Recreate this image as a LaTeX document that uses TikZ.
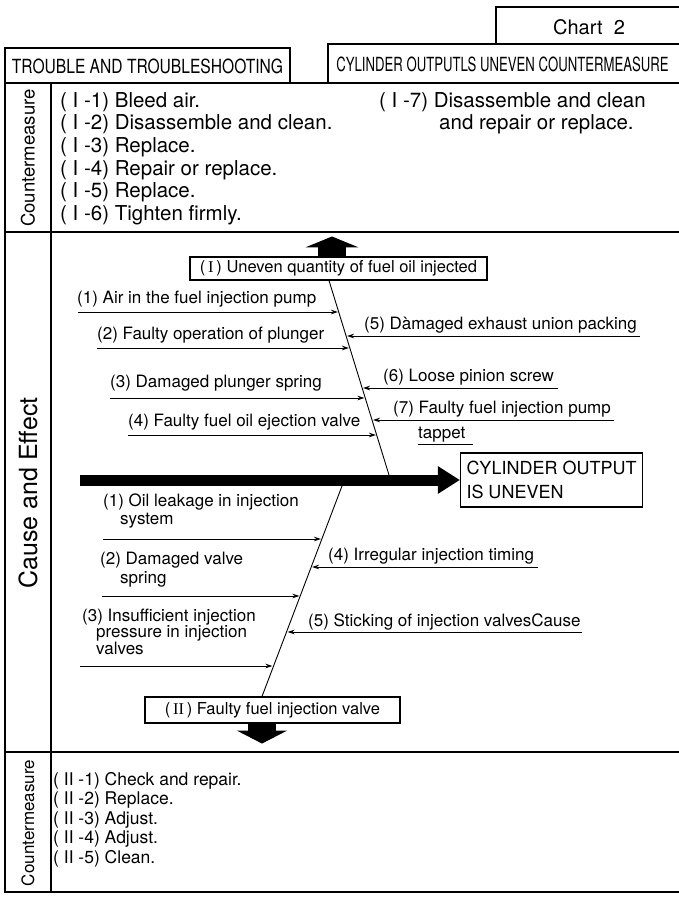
\documentclass[tikz,border=0pt]{standalone}
\usepackage{fontspec}
\setmainfont{TeX Gyre Heros}
\newfontfamily\numeralfont{Liberation Serif}
\usepackage{graphicx}
\usetikzlibrary{arrows.meta,positioning}

\newcommand{\fsz}[2]{\fontsize{#1}{#2}\selectfont}

\begin{document}
\begin{tikzpicture}[
  x=1pt, y=-1pt,
  tableline/.style={line width=1.3pt, line cap=rect},
  hdrtext/.style={inner sep=0pt, font=\fsz{19.5}{22}},
  effectbox/.style={draw, line width=1.1pt, inner sep=0pt, font=\fsz{16.5}{19}},
  lbl/.style={anchor=base west, inner sep=0pt, font=\fsz{17}{19}},
  listitem/.style={anchor=base west, inner sep=0pt, font=\fsz{20.5}{22}},
  sidelabel/.style={rotate=90, inner sep=0pt},
  spine/.style={line width=0.9pt},
  cause/.style={line width=1pt, -{Stealth[length=7pt, width=4.5pt]}},
  bigarrow/.style={line width=28pt, -{Triangle[length=11pt, width=53pt]}}
]
\useasboundingbox (0,0) rectangle (678,899);

% header boxes
\draw[tableline] (496,44) -- (496,7) -- (678,7);
\draw[tableline] (328,83) -- (328,44) -- (678,44);
\draw[tableline] (5,48) rectangle (290,83);
\node[inner sep=0pt, font=\fsz{20}{24}] (chart) at (589,27) {Chart\ \ 2};
\node[hdrtext] (trouble) at (147.5,66) {\scalebox{0.8}[1]{TROUBLE AND TROUBLESHOOTING}};
\node[hdrtext] (title) at (502.5,64) {\scalebox{0.675}[1]{CYLINDER OUTPUTLS UNEVEN COUNTERMEASURE}};

% table frame
\draw[tableline] (5,83) -- (678,83);
\draw[tableline] (5,232) -- (678,232);
\draw[tableline] (5,752) -- (678,752);
\draw[tableline] (5,892) -- (678,892);
\draw[tableline] (5,83) -- (5,892);
\draw[tableline] (51,83) -- (51,892);

\node[sidelabel, font=\fsz{18.5}{20}] (cmtop) at (28,158) {Countermeasure};
\node[sidelabel, font=\fsz{25}{28}] (cae) at (28,493) {Cause and Effect};
\node[sidelabel, font=\fsz{17}{20}] (cmbot) at (28,823) {Countermeasure};

% countermeasures (I)
\foreach \txt [count=\i] in {{( I -1) Bleed air.}, {( I -2) Disassemble and clean.},
    {( I -3) Replace.}, {( I -4) Repair or replace.}, {( I -5) Replace.}, {( I -6) Tighten firmly.}}
  \node[listitem] (cmi\i) at (60,{107+22.7*(\i-1)}) {\txt};
\node[listitem] (cmi7) at (379,107) {( I -7) Disassemble and clean};
\node[listitem] (cmi7b) at (439,129.7) {and repair or replace.};

% effects
\node[effectbox, minimum width=297pt, minimum height=23pt] (ubox) at (338.5,268.5)
  {(\,{\numeralfont I}\,) Uneven quantity of fuel oil injected};
\node[effectbox, minimum width=255pt, minimum height=26pt] (lbox) at (272.5,710)
  {(\,{\numeralfont II}\,) Faulty fuel injection valve};
\node[draw, line width=1.1pt, align=left, inner xsep=6pt, minimum width=179pt,
  minimum height=54pt, font=\fsz{18}{24}] (result) at (551.5,480) {CYLINDER OUTPUT\\IS UNEVEN};

\draw[bigarrow] ([xshift=-6.5pt]ubox.north) -- ++(0,-20);
\draw[line width=28pt, -{Triangle[length=13pt, width=50pt]}] ([xshift=-10.5pt]lbox.south) -- ++(0,20);

% main arrow
\coordinate (tail) at (80,480);
\draw[line width=11pt, -{Triangle[length=22pt, width=26pt]}] (tail) -- (result.west);

% spines
\coordinate (uroot) at ([xshift=-9.5pt]ubox.south);
\coordinate (uhead) at (389,475);
\draw[spine] (uroot) -- (uhead);
\coordinate (lhead) at (342,486);
\coordinate (lroot) at ([xshift=-10.5pt]lbox.north);
\draw[spine] (lhead) -- (lroot);

% causes (I)
\node[lbl] (u1) at (77,303) {(1) Air in the fuel injection pump};
\node[lbl] (u2) at (97,339) {(2) Faulty operation of plunger};
\node[lbl] (u3) at (110,387) {(3) Damaged plunger spring};
\node[lbl] (u4) at (128,426) {(4) Faulty fuel oil ejection valve};
\node[lbl] (u5) at (364,329) {(5) D\`amaged exhaust union packing};
\node[lbl] (u6) at (383,381) {(6) Loose pinion screw};
\node[lbl] (u7) at (393,413) {(7) Faulty fuel injection pump};
\node[lbl] (u7b) at (418,438) {tappet};
\draw[line width=1pt] ([yshift=-6pt]u7b.base west) -- ([yshift=-6pt,xshift=8pt]u7b.base east);

% causes (II)
\node[lbl] (l1) at (103,506) {(1) Oil leakage in injection};
\node[lbl] (l1b) at (120,524) {system};
\node[lbl] (l2) at (100,564) {(2) Damaged valve};
\node[lbl] (l2b) at (120,583) {spring};
\node[lbl] (l3) at (82,621) {(3) Insufficient injection};
\node[lbl] (l3b) at (96,637.5) {pressure in injection};
\node[lbl] (l3c) at (96,654) {valves};
\node[lbl] (l4) at (328,560) {(4) Irregular injection timing};
\node[lbl] (l5) at (308,626) {(5) Sticking of injection valvesCause};

\foreach \n/\sx/\ex/\y in {a/78/338/312, b/97/349/348, c/110/364.5/398, d/128/376/435,
    e/640/347/336, f/558/363/388, g/614/373/420,
    h/103/321/539, i/102/299.5/596, j/80/272.5/666,
    k/538/312/567, m/582/287.5/632}{
  \coordinate (\n s) at (\sx,\y);
  \coordinate (\n e) at (\ex,\y);
  \draw[cause] (\n s) -- (\n e);
}

% countermeasures (II)
\foreach \txt [count=\i] in {{( II -1) Check and repair.}, {( II -2) Replace.},
    {( II -3) Adjust.}, {( II -4) Adjust.}, {( II -5) Clean.}}
  \node[lbl, font=\fsz{17.5}{19}] (cmii\i) at (53,{785+19.5*(\i-1)}) {\txt};
\end{tikzpicture}
\end{document}
